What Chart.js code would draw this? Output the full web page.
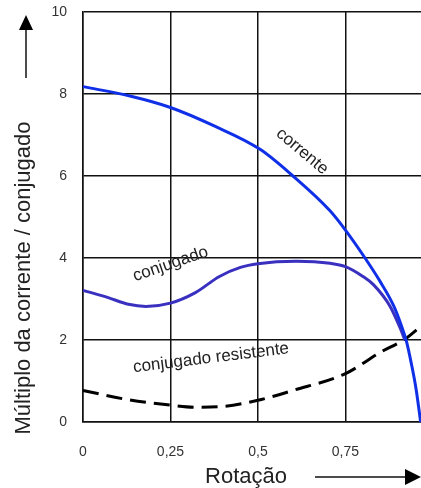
<!DOCTYPE html>
<html>
<head>
<meta charset="utf-8">
<script src="https://cdn.jsdelivr.net/npm/chart.js@4.4.1/dist/chart.umd.min.js"></script>
<style>
  html, body { margin: 0; padding: 0; background: #fff; }
  canvas { display: block; }
</style>
</head>
<body>
<canvas id="motorChart" width="421" height="488"></canvas>
<script>
// values (rotação as fraction of synchronous speed)
const correnteX = [0, 0.134, 0.25, 0.375, 0.506, 0.6, 0.706, 0.75, 0.806, 0.849, 0.887, 0.91, 0.925, 0.939, 0.952, 0.965];
const correnteY = [8.18, 7.95, 7.67, 7.22, 6.65, 6.0, 5.15, 4.68, 4.0, 3.43, 2.85, 2.35, 1.95, 1.4, 0.8, 0];

const conjugadoX = [0, 0.07, 0.13, 0.18, 0.25, 0.32, 0.39, 0.45, 0.5, 0.61, 0.706, 0.75, 0.8, 0.83, 0.877, 0.906, 0.92];
const conjugadoY = [3.21, 3.04, 2.87, 2.82, 2.9, 3.15, 3.55, 3.77, 3.86, 3.92, 3.87, 3.79, 3.55, 3.35, 2.83, 2.3, 2.0];

const resistenteX = [0, 0.125, 0.25, 0.32, 0.4, 0.5, 0.6, 0.75, 0.85, 0.92, 0.965];
const resistenteY = [0.77, 0.55, 0.41, 0.36, 0.38, 0.53, 0.77, 1.18, 1.7, 2.02, 2.33];

const xTicks = [0, 0.25, 0.5, 0.75];
const yMax = 10;
const yStep = 2;

const xTitle = 'Rotação';
const yTitle = 'Múltiplo da corrente / conjugado';

// text written along the curves
const curveLabels = [
  { text: 'corrente',             x: 0.626, y: 6.6,  angle: 40 },
  { text: 'conjugado',            x: 0.25,  y: 3.85, angle: -19 },
  { text: 'conjugado resistente', x: 0.366, y: 1.56, angle: -7 }
];

const toPoints = (xs, ys) => xs.map((x, i) => ({ x: x, y: ys[i] }));
const fmt = v => String(v).replace('.', ',');
const FONT = '"Liberation Sans", Arial, sans-serif';

function arrow(ctx, x1, y1, x2, y2, head, half) {
  const a = Math.atan2(y2 - y1, x2 - x1);
  ctx.beginPath();
  ctx.moveTo(x1, y1);
  ctx.lineTo(x2 - head * Math.cos(a), y2 - head * Math.sin(a));
  ctx.stroke();
  ctx.beginPath();
  ctx.moveTo(x2, y2);
  ctx.lineTo(x2 - head * Math.cos(a) - half * Math.sin(a), y2 - head * Math.sin(a) + half * Math.cos(a));
  ctx.lineTo(x2 - head * Math.cos(a) + half * Math.sin(a), y2 - head * Math.sin(a) - half * Math.cos(a));
  ctx.closePath();
  ctx.fill();
}

const decorations = {
  id: 'decorations',
  afterDraw(chart) {
    const ctx = chart.ctx;
    const xs = chart.scales.x, ys = chart.scales.y;
    ctx.save();
    ctx.fillStyle = '#222';
    ctx.strokeStyle = '#111';
    ctx.lineWidth = 1.5;

    // labels on curves
    ctx.font = '17px ' + FONT;
    ctx.textAlign = 'center';
    ctx.textBaseline = 'middle';
    curveLabels.forEach(l => {
      ctx.save();
      ctx.translate(xs.getPixelForValue(l.x), ys.getPixelForValue(l.y));
      ctx.rotate(l.angle * Math.PI / 180);
      ctx.fillText(l.text, 0, 0);
      ctx.restore();
    });

    // axis titles
    ctx.font = '22px ' + FONT;
    ctx.fillText(xTitle, 246, 477);
    ctx.save();
    ctx.translate(24, 278);
    ctx.rotate(-Math.PI / 2);
    ctx.fillText(yTitle, 0, 0);
    ctx.restore();

    // arrows
    ctx.fillStyle = '#000';
    arrow(ctx, 26, 78, 26, 15, 15, 7);
    arrow(ctx, 315, 477, 421, 477, 16, 8);
    ctx.restore();
  }
};

new Chart(document.getElementById('motorChart').getContext('2d'), {
  type: 'line',
  data: {
    datasets: [
      {
        label: 'corrente',
        data: toPoints(correnteX, correnteY),
        borderColor: '#1030e8',
        borderWidth: 3
      },
      {
        label: 'conjugado',
        data: toPoints(conjugadoX, conjugadoY),
        borderColor: '#3a30c0',
        borderWidth: 3
      },
      {
        label: 'conjugado resistente',
        data: toPoints(resistenteX, resistenteY),
        borderColor: '#000',
        borderWidth: 3,
        borderDash: [16, 8]
      }
    ]
  },
  options: {
    responsive: false,
    animation: false,
    layout: { padding: { top: 12, left: 0, right: 0, bottom: 0 } },
    elements: {
      point: { radius: 0 },
      line: { cubicInterpolationMode: 'monotone', fill: false }
    },
    datasets: { line: { clip: false } },
    plugins: {
      legend: { display: false },
      tooltip: { enabled: false }
    },
    scales: {
      x: {
        type: 'linear',
        min: 0,
        max: 0.966,
        afterBuildTicks: s => { s.ticks = xTicks.map(v => ({ value: v })); },
        afterFit: s => { s.height = 66; },
        grid: { color: '#111', lineWidth: 1.5, drawTicks: false },
        border: { color: '#111', width: 1.5 },
        ticks: {
          padding: 22,
          color: '#333',
          font: { family: FONT, size: 14 },
          maxRotation: 0,
          callback: v => fmt(v)
        }
      },
      y: {
        min: 0,
        max: yMax,
        afterFit: s => { s.width = 83; },
        // invisible tick marks give the label gap without padding the top of the plot
        grid: { color: '#111', lineWidth: 1.5, drawTicks: true, tickLength: 16, tickColor: 'rgba(0,0,0,0)' },
        border: { color: '#111', width: 1.5 },
        ticks: {
          stepSize: yStep,
          padding: 0,
          color: '#333',
          font: { family: FONT, size: 14 },
          callback: v => fmt(v)
        }
      }
    }
  },
  plugins: [decorations]
});
</script>
</body>
</html>
